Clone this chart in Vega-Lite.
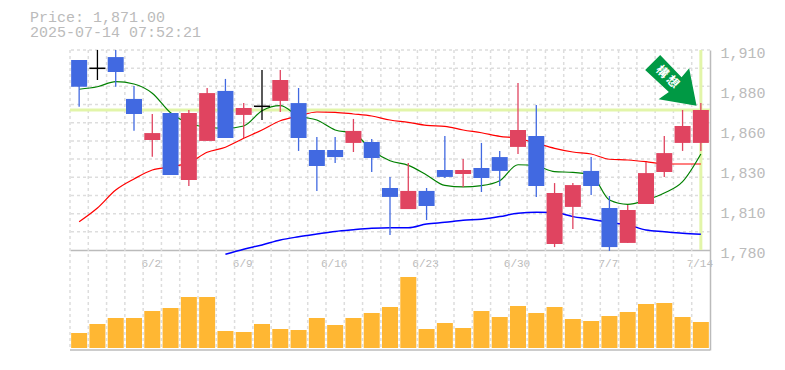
{"$schema":"https://vega.github.io/schema/vega-lite/v6.json","width":640,"height":300,"autosize":"none","padding":{"left":70,"top":50,"right":75,"bottom":20},"background":"white","title":{"text":["Price: 1,871.00","2025-07-14 07:52:21"],"anchor":"start","frame":"group","dx":-40,"offset":5,"font":"Liberation Mono","fontSize":15,"fontWeight":"normal","color":"#bbbbbb","lineHeight":15},
"datasets":{"candles":[
{"d":"5/27","o":1903.5,"c":1886.1,"h":1903.5,"l":1873.1,"dir":"down","v":15000,"ma1":1884.5,"ma2":1798.4},
{"d":"5/28","o":1898.6,"c":1897.6,"h":1910,"l":1890.5,"dir":"flat","v":24000,"ma1":1886.1,"ma2":1807.3},
{"d":"5/29","o":1905.4,"c":1895.7,"h":1910,"l":1886.1,"dir":"down","v":30000,"ma1":1889.4,"ma2":1819},
{"d":"5/30","o":1878.2,"c":1868.4,"h":1886.6,"l":1857.5,"dir":"down","v":30000,"ma1":1887.9,"ma2":1826.2},
{"d":"6/2","o":1851.5,"c":1856,"h":1868.4,"l":1840.6,"dir":"up","v":37000,"ma1":1881.9,"ma2":1832},
{"d":"6/3","o":1869,"c":1828.8,"h":1869,"l":1828.8,"dir":"down","v":40000,"ma1":1869.2,"ma2":1834.1},
{"d":"6/4","o":1825.5,"c":1869,"h":1871,"l":1821.6,"dir":"up","v":51000,"ma1":1862.4,"ma2":1836.7},
{"d":"6/5","o":1850.9,"c":1882,"h":1885.3,"l":1850.9,"dir":"up","v":51000,"ma1":1859.8,"ma2":1843.5},
{"d":"6/6","o":1883.4,"c":1852.8,"h":1891.2,"l":1852.8,"dir":"down","v":17000,"ma1":1859.1,"ma2":1846.8,"ma3":1777.2},
{"d":"6/9","o":1867.8,"c":1872.3,"h":1875.5,"l":1852.8,"dir":"up","v":16000,"ma1":1860.6,"ma2":1852.6,"ma3":1780.5},
{"d":"6/10","o":1873.9,"c":1872.9,"h":1897,"l":1864.5,"dir":"flat","v":24000,"ma1":1870.5,"ma2":1858,"ma3":1783.3},
{"d":"6/11","o":1876.9,"c":1890.5,"h":1897,"l":1869.7,"dir":"up","v":19000,"ma1":1873.8,"ma2":1864,"ma3":1786.5},
{"d":"6/12","o":1875.5,"c":1852.8,"h":1885.3,"l":1844.4,"dir":"down","v":18000,"ma1":1867.1,"ma2":1867.1,"ma3":1788.6},
{"d":"6/13","o":1845,"c":1834.6,"h":1853.5,"l":1818.4,"dir":"down","v":30000,"ma1":1864.5,"ma2":1869.7,"ma3":1790.4},
{"d":"6/16","o":1845,"c":1840.4,"h":1853.5,"l":1836.6,"dir":"down","v":23000,"ma1":1858,"ma2":1869.5,"ma3":1792.1},
{"d":"6/17","o":1849.6,"c":1857.4,"h":1865.2,"l":1843.7,"dir":"up","v":30000,"ma1":1856,"ma2":1868.4,"ma3":1793.2},
{"d":"6/18","o":1850.2,"c":1839.8,"h":1852.2,"l":1830.7,"dir":"down","v":35000,"ma1":1845,"ma2":1867.1,"ma3":1794.1},
{"d":"6/19","o":1820.3,"c":1814.5,"h":1827.5,"l":1789.8,"dir":"down","v":41000,"ma1":1838,"ma2":1864.5,"ma3":1794.5},
{"d":"6/20","o":1806.6,"c":1818.4,"h":1836.6,"l":1806.6,"dir":"up","v":71000,"ma1":1835,"ma2":1863,"ma3":1794.5},
{"d":"6/23","o":1818.4,"c":1808.6,"h":1820.3,"l":1799.5,"dir":"down","v":19000,"ma1":1828.8,"ma2":1861,"ma3":1796.9},
{"d":"6/24","o":1832,"c":1827.5,"h":1854.1,"l":1826.8,"dir":"down","v":25000,"ma1":1822,"ma2":1860.4,"ma3":1798},
{"d":"6/25","o":1829.4,"c":1832,"h":1839.2,"l":1820.9,"dir":"up","v":20000,"ma1":1821,"ma2":1858,"ma3":1799.3},
{"d":"6/26","o":1833.3,"c":1826.8,"h":1849.6,"l":1817.7,"dir":"down","v":37000,"ma1":1821.8,"ma2":1856.2,"ma3":1800},
{"d":"6/27","o":1840.4,"c":1831.4,"h":1844.4,"l":1821.6,"dir":"down","v":31000,"ma1":1825,"ma2":1853.9,"ma3":1801.7},
{"d":"6/30","o":1847,"c":1858,"h":1888.5,"l":1842.4,"dir":"up","v":42000,"ma1":1835.4,"ma2":1852.6,"ma3":1803.9},
{"d":"7/1","o":1854.1,"c":1821.6,"h":1874.3,"l":1814.5,"dir":"down","v":35000,"ma1":1834.6,"ma2":1849.4,"ma3":1804.5},
{"d":"7/2","o":1783.9,"c":1817.1,"h":1823.5,"l":1781.9,"dir":"up","v":41000,"ma1":1830.9,"ma2":1846.1,"ma3":1804.3},
{"d":"7/3","o":1808,"c":1822.2,"h":1823.5,"l":1793.6,"dir":"up","v":29000,"ma1":1830.5,"ma2":1843.7,"ma3":1801.7},
{"d":"7/4","o":1831.4,"c":1821.6,"h":1840.4,"l":1815.8,"dir":"down","v":27000,"ma1":1828.8,"ma2":1842.4,"ma3":1800},
{"d":"7/7","o":1807.3,"c":1781.9,"h":1815.1,"l":1779.4,"dir":"down","v":32000,"ma1":1812.5,"ma2":1839,"ma3":1797.8},
{"d":"7/8","o":1784.6,"c":1806,"h":1809.3,"l":1784.6,"dir":"up","v":36000,"ma1":1809.7,"ma2":1838.5,"ma3":1796.3},
{"d":"7/9","o":1809.9,"c":1830,"h":1837.2,"l":1809.9,"dir":"up","v":44000,"ma1":1812.5,"ma2":1837.4,"ma3":1793},
{"d":"7/10","o":1830.7,"c":1843,"h":1854.1,"l":1827.5,"dir":"up","v":45000,"ma1":1817,"ma2":1835.9,"ma3":1791.9},
{"d":"7/11","o":1849.6,"c":1860.6,"h":1871,"l":1844.4,"dir":"up","v":31000,"ma1":1824.4,"ma2":1835.9,"ma3":1790.9},
{"d":"7/14","o":1849.6,"c":1871,"h":1875.5,"l":1844.4,"dir":"up","v":26000,"ma1":1842.4,"ma2":1835.9,"ma3":1790.2}
],
"hgrid":[{"p":1910},{"p":1898.2},{"p":1886.4},{"p":1874.5},{"p":1862.7},{"p":1850.9},{"p":1839.1},{"p":1827.3},{"p":1815.5},{"p":1803.6},{"p":1791.8}],
"base":[{"p":1780}],
"marker":[{"d":"7/14","p":1871,"top":1910,"bottom":1780,"label":"構 想"}]},
"layer":[
{"layer":[
{"data":{"name":"candles"},"mark":{"type":"rule","stroke":"#dddddd","strokeWidth":1.5,"strokeDash":[3,3]},
 "encoding":{"x":{"field":"d","type":"ordinal","sort":null,"bandPosition":0,"scale":{"paddingInner":0,"paddingOuter":0},
 "axis":{"title":null,"offset":-100,"values":["6/2","6/9","6/16","6/23","6/30","7/7","7/14"],"labelAngle":0,"labelColor":"#bbbbbb","labelFont":"Liberation Mono","labelFontSize":11,"labelPadding":7,"labelOffset":-1,"ticks":false,"grid":false,"domainColor":"#bbbbbb","domainWidth":1.5,"labelOverlap":false,"labelFlush":false}}}},
{"data":{"name":"hgrid"},"mark":{"type":"rule","stroke":"#dddddd","strokeWidth":1.5,"strokeDash":[3,3]},
 "encoding":{"y":{"field":"p","type":"quantitative","scale":{"domain":[1715,1910],"nice":false,"zero":false},
 "axis":{"title":null,"orient":"right","values":[1780,1806,1832,1858,1884,1910],"labelExpr":"format(round(datum.value/10)*10,',')","labelColor":"#bbbbbb","labelFont":"Liberation Mono","labelFontSize":15,"labelPadding":10,"labelOffset":2,"ticks":false,"grid":false,"domainColor":"#bbbbbb","domainWidth":1.5,"labelOverlap":false,"labelFlush":false}}}},
{"data":{"name":"marker"},"mark":{"type":"rule","stroke":"#e2f5a9","strokeWidth":3},"encoding":{"y":{"field":"p","type":"quantitative","scale":{"domain":[1715,1910],"nice":false,"zero":false}}}},
{"data":{"name":"marker"},"mark":{"type":"rule","stroke":"#e2f5a9","strokeWidth":3},"encoding":{"x":{"field":"d","type":"ordinal","sort":null},"y":{"field":"top","type":"quantitative","scale":{"domain":[1715,1910],"nice":false,"zero":false}},"y2":{"field":"bottom"}}},
{"data":{"name":"candles"},"mark":{"type":"line","stroke":"#0000ff","strokeWidth":1.5,"interpolate":"monotone"},"transform":[{"filter":"isValid(datum.ma3)"}],"encoding":{"x":{"field":"d","type":"ordinal","sort":null},"y":{"field":"ma3","type":"quantitative","scale":{"domain":[1715,1910],"nice":false,"zero":false}}}},
{"data":{"name":"candles"},"mark":{"type":"line","stroke":"#ff0000","strokeWidth":1.2,"interpolate":"monotone"},"encoding":{"x":{"field":"d","type":"ordinal","sort":null},"y":{"field":"ma2","type":"quantitative","scale":{"domain":[1715,1910],"nice":false,"zero":false}}}},
{"data":{"name":"candles"},"mark":{"type":"line","stroke":"#008000","strokeWidth":1.2,"interpolate":"monotone"},"encoding":{"x":{"field":"d","type":"ordinal","sort":null},"y":{"field":"ma1","type":"quantitative","scale":{"domain":[1715,1910],"nice":false,"zero":false}}}},
{"data":{"name":"candles"},"mark":{"type":"rule","strokeWidth":1.3},"encoding":{"x":{"field":"d","type":"ordinal","sort":null},"y":{"field":"h","type":"quantitative","scale":{"domain":[1715,1910],"nice":false,"zero":false}},"y2":{"field":"l"},"color":{"field":"dir","type":"nominal","legend":null,"scale":{"domain":["up","down","flat"],"range":["#e04460","#4169e1","#000000"]}}}},
{"data":{"name":"candles"},"mark":{"type":"bar","size":16},"encoding":{"x":{"field":"d","type":"ordinal","sort":null},"y":{"field":"o","type":"quantitative","scale":{"domain":[1715,1910],"nice":false,"zero":false}},"y2":{"field":"c"},"color":{"field":"dir","type":"nominal","legend":null,"scale":{"domain":["up","down","flat"],"range":["#e04460","#4169e1","#000000"]}}}},
{"data":{"name":"marker"},"mark":{"type":"point","shape":"M-40.7,-55L-55.7,-40L-32,-18L-42.3,-10.7L-4.3,-4.3L-11.7,-41.7L-19.3,-32.7Z","size":4,"filled":true,"fill":"#009944","stroke":null,"opacity":1},"encoding":{"x":{"field":"d","type":"ordinal","sort":null},"y":{"field":"p","type":"quantitative","scale":{"domain":[1715,1910],"nice":false,"zero":false}}}},
{"data":{"name":"marker"},"mark":{"type":"text","font":"Noto Sans CJK JP","fontSize":12,"fontWeight":"bold","fill":"white","angle":45,"dx":-47,"dy":0,"align":"center","baseline":"middle"},"encoding":{"x":{"field":"d","type":"ordinal","sort":null},"y":{"field":"p","type":"quantitative","scale":{"domain":[1715,1910],"nice":false,"zero":false}},"text":{"field":"label"}}},
{"data":{"name":"base"},"mark":{"type":"rule","stroke":"#bbbbbb","strokeWidth":1.5},"encoding":{"y":{"datum":1715,"type":"quantitative","scale":{"domain":[1715,1910],"nice":false,"zero":false}}}}
]},
{"data":{"name":"candles"},"mark":{"type":"bar","size":16,"fill":"#ffb733"},"encoding":{"x":{"field":"d","type":"ordinal","sort":null},"y":{"field":"v","type":"quantitative","axis":null,"scale":{"domain":[-2000,298000],"nice":false,"zero":false}}}}
],
"resolve":{"scale":{"y":"independent"}},
"config":{"view":{"stroke":null}}}
